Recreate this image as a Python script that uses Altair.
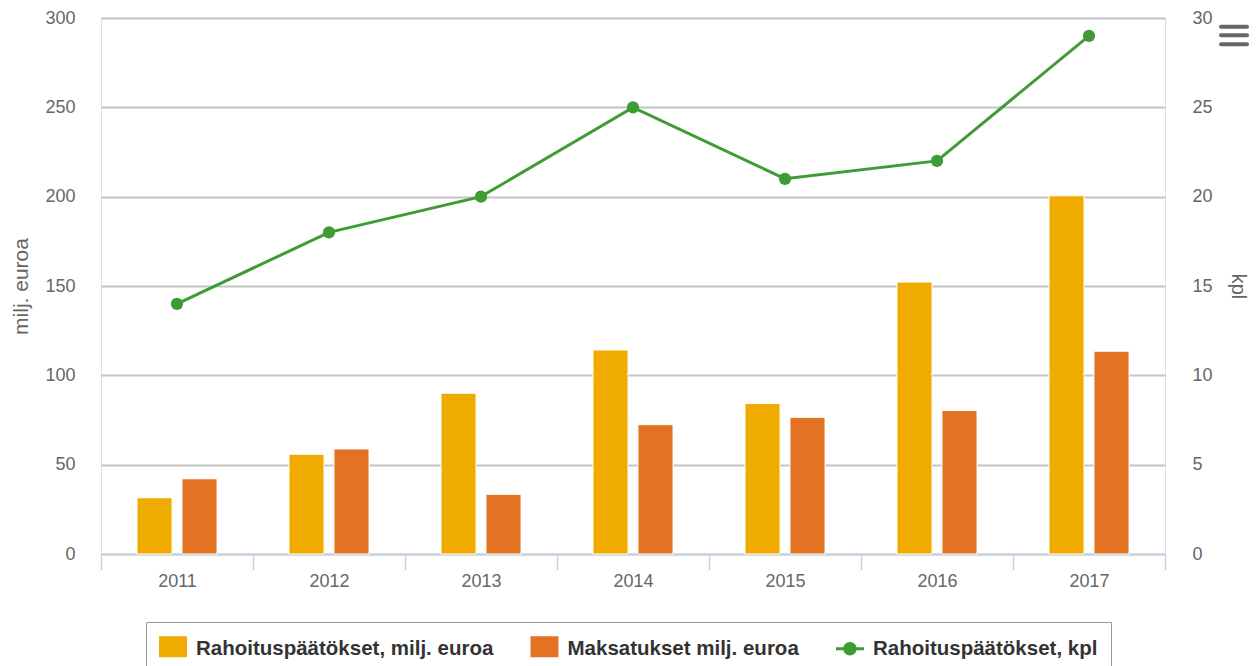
import altair as alt
import pandas as pd

years = ["2011", "2012", "2013", "2014", "2015", "2016", "2017"]
rahoitus_meur = [31.5, 55.8, 90.0, 114.2, 84.2, 152.2, 200.5]
maksatukset_meur = [42.1, 58.8, 33.4, 72.4, 76.5, 80.3, 113.5]
rahoitus_kpl = [14, 18, 20, 25, 21, 22, 29]
series_names = ["Rahoituspäätökset, milj. euroa", "Maksatukset milj. euroa", "Rahoituspäätökset, kpl"]
series_colors = ["#f0ab00", "#e37222", "#3f9c35"]
left_ticks = [0, 50, 100, 150, 200, 250, 300]
right_ticks = [0, 5, 10, 15, 20, 25, 30]

bars_df = pd.DataFrame({
    "year": years * 2,
    "series": [series_names[0]] * len(years) + [series_names[1]] * len(years),
    "value": rahoitus_meur + maksatukset_meur,
})
line_df = pd.DataFrame({"year": years, "series": [series_names[2]] * len(years), "value": rahoitus_kpl})

FONT = "Liberation Sans"
GREY = "#666666"

color_scale = alt.Scale(domain=series_names, range=series_colors)

rect_path = "M-1,-0.93L1,-0.93L1,0.57L-1,0.57Z"
line_path = ("M-1,-0.15L1,-0.15L1,0.07L-1,0.07Z "
             "M-0.48,-0.04A0.48,0.48 0 1,1 0.48,-0.04A0.48,0.48 0 1,1 -0.48,-0.04Z")
shape_scale = alt.Scale(domain=series_names, range=[rect_path, rect_path, line_path])

legend = alt.Legend(
    title=None,
    orient="none",
    legendX=45,
    legendY=604,
    direction="horizontal",
    labelFont=FONT,
    labelFontSize=20.5,
    labelFontWeight="bold",
    labelColor="#333333",
    labelLimit=500,
    labelOffset=9,
    symbolSize=784,
    symbolStrokeWidth=0,
    symbolOpacity=1,
    columnPadding=36.5,
    padding=13,
    strokeColor="#999999",
)

x_enc = alt.X(
    "year:N",
    sort=years,
    scale=alt.Scale(paddingInner=0, paddingOuter=0),
    axis=alt.Axis(
        title=None,
        labelAngle=0,
        tickBand="extent",
        grid=False,
        domainColor="#c6d3e3",
        domainWidth=2,
        tickColor="#c6d3e3",
        tickWidth=1.5,
        tickSize=16,
        labelPadding=2,
        labelFont=FONT,
        labelFontSize=18,
        labelColor=GREY,
    ),
)

bars = alt.Chart(bars_df).mark_bar(stroke="white", strokeWidth=1).encode(
    x=x_enc,
    xOffset=alt.XOffset("series:N", sort=series_names[:2],
                        scale=alt.Scale(paddingInner=0.22, paddingOuter=0.8)),
    y=alt.Y(
        "value:Q",
        scale=alt.Scale(domain=[0, 300], nice=False),
        axis=alt.Axis(
            title="milj. euroa",
            values=left_ticks,
            grid=True,
            gridColor="#c4c4c4",
            gridWidth=2,
            domain=False,
            ticks=False,
            tickSize=0,
            labelPadding=26,
            labelFont=FONT,
            labelFontSize=18,
            labelColor=GREY,
            titleFont=FONT,
            titleFontSize=21,
            titleFontWeight="normal",
            titleColor=GREY,
            titleAngle=-90,
            titleX=-80,
            titleY=268,
            titleBaseline="middle",
        ),
    ),
    color=alt.Color("series:N", scale=color_scale, legend=legend),
)

line = alt.Chart(line_df).mark_line(
    strokeWidth=3,
    color=series_colors[2],
    point=alt.OverlayMarkDef(size=150, filled=True, opacity=1, color=series_colors[2]),
).encode(
    x=x_enc,
    y=alt.Y(
        "value:Q",
        scale=alt.Scale(domain=[0, 30], nice=False),
        axis=alt.Axis(
            orient="right",
            title="kpl",
            values=right_ticks,
            grid=False,
            domain=False,
            ticks=False,
            tickSize=0,
            labelPadding=27,
            labelFont=FONT,
            labelFontSize=18,
            labelColor=GREY,
            titleFont=FONT,
            titleFontSize=20,
            titleFontWeight="normal",
            titleColor=GREY,
            titleAngle=90,
            titleX=72,
            titleY=268,
            titleBaseline="middle",
        ),
    ),
)

# legend carrier: no marks drawn, only supplies the shape scale for the legend symbols
legend_layer = alt.Chart(line_df).mark_point(filled=True).encode(
    x=x_enc,
    color=alt.Color("series:N", scale=color_scale, legend=legend),
    shape=alt.Shape("series:N", scale=shape_scale, legend=legend),
).transform_filter("false")

menu_df = pd.DataFrame({"k": [0]})
menu = [
    alt.Chart(menu_df).mark_rule(stroke=GREY, strokeWidth=4, strokeCap="round").encode(
        x=alt.value(1120), x2=alt.value(1146), y=alt.value(yv)
    )
    for yv in (8.7, 17.3, 26.3)
]

chart = (
    alt.layer(bars, line, legend_layer, *menu)
    .resolve_scale(y="independent")
    .properties(
        width=1064,
        height=536,
        autosize=alt.AutoSizeParams(type="none"),
        padding={"left": 93, "top": 10, "right": 84, "bottom": 112},
    )
    .configure_view(stroke=None)
    .configure_legend(strokeWidth=2)
    .configure(font=FONT)
)

chart.save("out.html", embed_options={"renderer": "svg", "actions": False})
